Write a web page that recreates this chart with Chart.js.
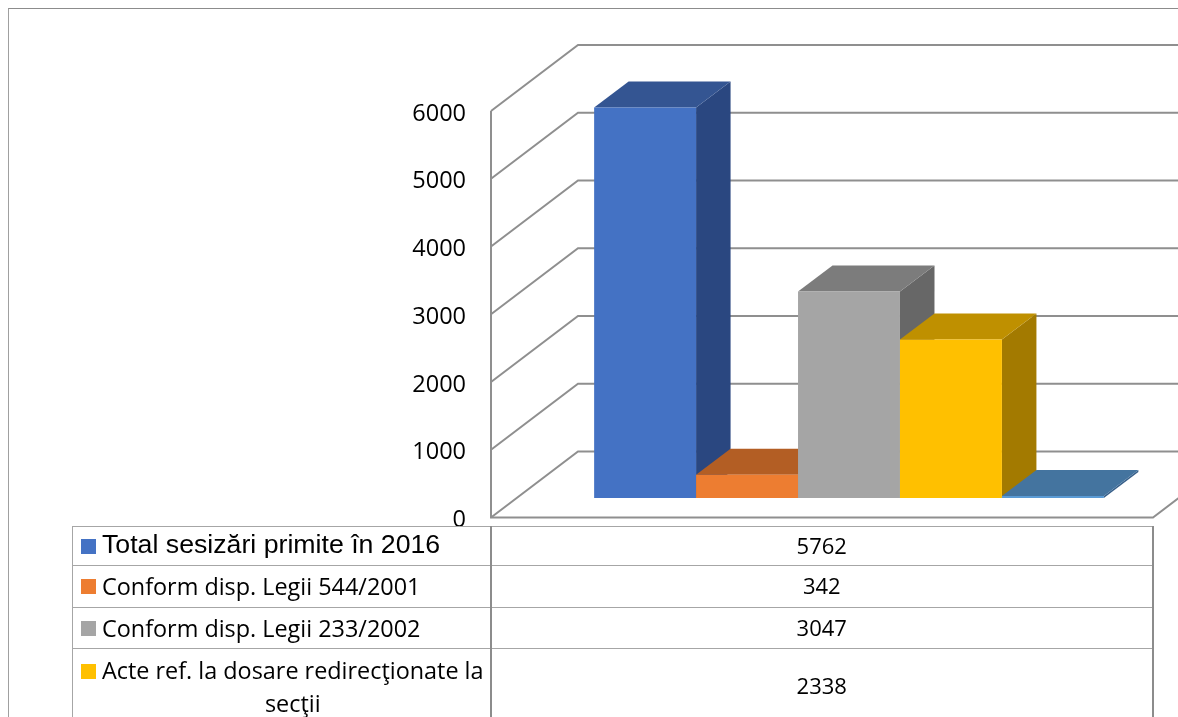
<!DOCTYPE html>
<html>
<head>
<meta charset="utf-8">
<title>Sesizari 2016</title>
<script src="https://cdn.jsdelivr.net/npm/chart.js@4/dist/chart.umd.min.js"></script>
<style>
    html, body { margin: 0; padding: 0; background: #fff; overflow: hidden; }
    #wrap { position: relative; width: 1178px; height: 717px; overflow: hidden; }
    #frame { position: absolute; left: 8px; top: 8px; right: -2px; bottom: -2px; border-left: 1px solid #a0a0a0; border-top: 1px solid #8c8c8c; }
    #chart { position: absolute; left: 0; top: 0; }
    #table { position: absolute; left: 72px; top: 526px; width: 1082px; border-collapse: collapse; table-layout: fixed; color: #000; }
    #table td { border: 1px solid #a6a6a6; border-right: 2px solid #8c8c8c; padding: 0 0 3px 0; text-align: center; font: 22px "Open Sans", sans-serif; box-sizing: border-box; }
    #table td.name { padding: 0 6px 0 8px; font-size: 23.4px; line-height: 33px; }
    #table .first { font: 26.7px "Liberation Sans", sans-serif; position: relative; top: -2px; }
    .entry { display: flex; align-items: center; text-align: left; }
    .entry.wrapped { align-items: flex-start; text-align: center; padding-top: 1px; }
    .entry.wrapped .swatch { margin-top: 10px; }
    .entry span:last-child { flex: 1; }
    .swatch { flex: none; width: 15px; height: 15px; margin-right: 6px; }
</style>
</head>
<body>
<div id="wrap">
    <div id="frame"></div>
    <canvas id="chart" width="1178" height="717"></canvas>
    <table id="table"><colgroup><col style="width:418px"><col></colgroup><tbody id="rows"></tbody></table>
</div>
<script>
const categories = ['2016'];
const seriesNames = [
    'Total sesizări primite în 2016',
    'Conform disp. Legii 544/2001',
    'Conform disp. Legii 233/2002',
    'Acte ref. la dosare redirecţionate la secţii',
    ''
];
const seriesValues = [5762, 342, 3047, 2338, 30];
const yTicks = [0, 1000, 2000, 3000, 4000, 5000, 6000];

const frontColors = ['#4472C4', '#ED7D31', '#A5A5A5', '#FFC000', '#5B9BD5'];
const topColors = ['#345592', '#B35E24', '#7C7C7C', '#BF9000', '#44749F'];
const sideColors = ['#2A4780', '#9A5120', '#676767', '#A37A00', '#38608A'];

// 3D look: how far the walls and the bars run back into the picture
const WALL_DX = 87, WALL_DY = -66;
const BAR_SHIFT_X = 27, BAR_SHIFT_Y = -19.5;
const BAR_DX = 34.5, BAR_DY = -26;
const LINE_COLOR = '#8f8f8f';

function polygon(ctx, color, points) {
    ctx.fillStyle = color;
    ctx.beginPath();
    points.forEach(([x, y], i) => i ? ctx.lineTo(x, y) : ctx.moveTo(x, y));
    ctx.closePath();
    ctx.fill();
}

const walls3d = {
    id: 'walls3d',
    beforeDatasetsDraw(chart) {
        const { ctx, chartArea, scales } = chart;
        const left = chartArea.left, right = chartArea.right;
        ctx.save();
        ctx.strokeStyle = LINE_COLOR;
        ctx.lineWidth = 2;
        yTicks.forEach(tick => {
            const y = scales.y.getPixelForValue(tick);
            ctx.beginPath();
            ctx.moveTo(left, y);
            ctx.lineTo(left + WALL_DX, y + WALL_DY);
            ctx.lineTo(right + WALL_DX, y + WALL_DY);
            ctx.stroke();
        });
        const y0 = scales.y.getPixelForValue(0);
        ctx.beginPath();
        ctx.moveTo(left, chartArea.top);
        ctx.lineTo(left, y0);
        ctx.lineTo(right, y0);
        ctx.lineTo(right + WALL_DX, y0 + WALL_DY);
        ctx.stroke();
        ctx.restore();

        // Chart.js paints the last dataset first, here the later bars must sit in front
        seriesValues.forEach((value, i) => {
            const meta = chart.getDatasetMeta(i);
            const bar = meta.data[0];
            const x0 = bar.x - bar.width / 2, x1 = bar.x + bar.width / 2;
            ctx.save();
            ctx.translate(BAR_SHIFT_X, BAR_SHIFT_Y);
            polygon(ctx, sideColors[i], [[x1, bar.y], [x1 + BAR_DX, bar.y + BAR_DY], [x1 + BAR_DX, bar.base + BAR_DY], [x1, bar.base]]);
            polygon(ctx, topColors[i], [[x0, bar.y], [x0 + BAR_DX, bar.y + BAR_DY], [x1 + BAR_DX, bar.y + BAR_DY], [x1, bar.y]]);
            meta.controller.draw();
            ctx.restore();
        });
        return false;
    }
};

new Chart(document.getElementById('chart'), {
    type: 'bar',
    data: {
        labels: categories,
        datasets: seriesNames.map((name, i) => ({
            label: name,
            data: [seriesValues[i]],
            backgroundColor: frontColors[i],
            borderWidth: 0
        }))
    },
    options: {
        responsive: false,
        animation: false,
        events: [],
        layout: { padding: { top: 111, right: 25, bottom: 199.5, left: 0 } },
        plugins: { legend: { display: false }, tooltip: { enabled: false } },
        datasets: { bar: { categoryPercentage: 0.77, barPercentage: 1 } },
        scales: {
            x: { display: false },
            y: {
                min: 0,
                max: 6000,
                afterFit: scale => { scale.width = 491; },
                afterBuildTicks: scale => { scale.ticks = yTicks.map(value => ({ value })); },
                grid: { display: false, drawTicks: false },
                border: { display: false },
                ticks: {
                    color: '#000',
                    padding: 25,
                    labelOffset: 3,
                    font: { family: '"Open Sans"', size: 23.5 },
                    callback: value => String(value)
                }
            }
        }
    },
    plugins: [walls3d]
});

// Data table under the plot, last series falls outside the picture
const rowHeights = [39, 42, 41, 76];
const rows = document.getElementById('rows');
seriesNames.slice(0, 4).forEach((name, i) => {
    const tr = document.createElement('tr');
    tr.style.height = rowHeights[i] + 'px';
    const nameCell = document.createElement('td');
    nameCell.className = 'name';
    const entry = document.createElement('div');
    entry.className = i === 3 ? 'entry wrapped' : 'entry';
    const swatch = document.createElement('span');
    swatch.className = 'swatch';
    swatch.style.background = frontColors[i];
    entry.appendChild(swatch);
    const label = document.createElement('span');
    if (i === 0) label.className = 'first';
    label.textContent = name;
    entry.appendChild(label);
    nameCell.appendChild(entry);
    const valueCell = document.createElement('td');
    valueCell.textContent = seriesValues[i];
    tr.appendChild(nameCell);
    tr.appendChild(valueCell);
    rows.appendChild(tr);
});
</script>
</body>
</html>
